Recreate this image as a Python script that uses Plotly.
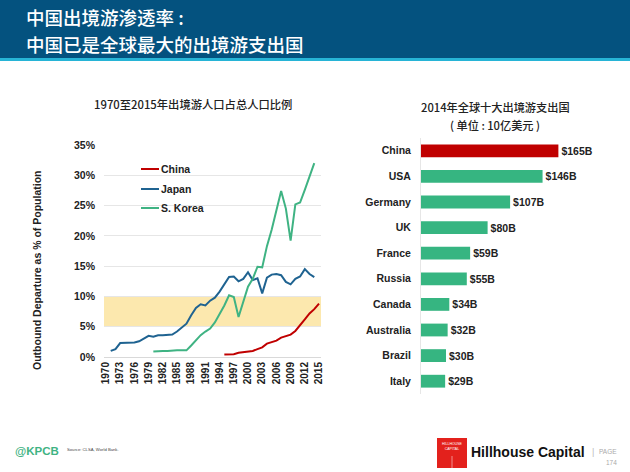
import plotly.graph_objects as go

W, H = 630, 472
FONT = "Liberation Sans, Noto Sans CJK SC, sans-serif"
CJK = "Noto Sans CJK SC, Liberation Sans, sans-serif"
DARK = "#222222"
RED = "#C00000"
BLUE = "#1F6391"
GREEN = "#3FB383"

japan_years = list(range(1971, 2015))
japan = [1.0, 1.3, 2.3, 2.3, 2.3, 2.4, 2.6, 3.0, 3.5, 3.35, 3.6, 3.6, 3.6, 3.7, 4.2,
         4.9, 5.5, 6.9, 8.1, 8.7, 8.5, 9.3, 9.8, 10.8, 12.1, 13.2, 13.3, 12.5, 12.9,
         14.0, 12.7, 13.0, 10.5, 13.1, 13.6, 13.7, 13.5, 12.4, 12.0, 12.9, 13.3, 14.5,
         13.7, 13.2]

korea_years = list(range(1980, 2015))
korea = [0.9, 1.0, 1.0, 1.0, 1.1, 1.1, 1.1, 1.1, 1.9, 2.8, 3.6, 4.2, 4.7, 5.7, 7.0,
         8.5, 10.2, 9.9, 6.6, 9.2, 11.6, 12.9, 14.9, 14.8, 18.3, 21.0, 24.2, 27.4,
         24.5, 19.2, 25.2, 25.5, 27.6, 29.7, 32.0]

china_years = list(range(1995, 2016))
china = [0.4, 0.4, 0.45, 0.7, 0.8, 0.85, 1.0, 1.3, 1.6, 2.2, 2.4, 2.7, 3.2, 3.5, 3.7,
         4.3, 5.2, 6.2, 7.2, 7.9, 8.8]

countries = ["China", "USA", "Germany", "UK", "France", "Russia", "Canada", "Australia",
             "Brazil", "Italy"]
spend = [165, 146, 107, 80, 59, 55, 34, 32, 30, 29]
spend_labels = ["$165B", "$146B", "$107B", "$80B", "$59B", "$55B", "$34B", "$32B", "$30B", "$29B"]
bar_colors = [RED] + ["#36B581"] * 9

year_ticks = list(range(1970, 2016, 3))
pct_ticks = [0, 5, 10, 15, 20, 25, 30, 35]
pct_labels = ["0%", "5%", "10%", "15%", "20%", "25%", "30%", "35%"]


def px(x):
    return x / W


def py(y):
    return 1 - y / H


def label(x, y, text, size, color=DARK, family=FONT, anchor="left", weight="normal", angle=0):
    return dict(xref="paper", yref="paper", x=px(x), y=py(y), text=text, showarrow=False,
                xanchor=anchor, yanchor="middle", textangle=angle,
                font=dict(size=size, color=color, family=family, weight=weight))


def legend_line(y, color):
    return dict(type="line", xref="paper", yref="paper", x0=px(141), x1=px(159), y0=py(y), y1=py(y),
                line=dict(color=color, width=2))


fig = go.Figure()
fig.add_trace(go.Scatter(x=china_years, y=china, mode="lines", name="China",
                         line=dict(color=RED, width=2)))
fig.add_trace(go.Scatter(x=japan_years, y=japan, mode="lines", name="Japan",
                         line=dict(color=BLUE, width=2)))
fig.add_trace(go.Scatter(x=korea_years, y=korea, mode="lines", name="S. Korea",
                         line=dict(color=GREEN, width=2)))
fig.add_trace(go.Bar(x=spend, y=countries, orientation="h", xaxis="x2", yaxis="y2",
                     marker=dict(color=bar_colors, line_width=0), text=spend_labels,
                     textposition="outside", cliponaxis=False,
                     textfont=dict(size=10.5, color=DARK, family=FONT, weight="bold")))

shapes = [
    # header band
    dict(type="rect", xref="paper", yref="paper", x0=0, x1=1, y0=py(58), y1=1,
         fillcolor="#04527F", line_width=0),
    dict(type="rect", xref="paper", yref="paper", x0=0, x1=1, y0=py(61), y1=py(58),
         fillcolor="#27B4D6", line_width=0),
    # 5-10% band
    dict(type="rect", xref="x", yref="y", x0=1969.58, x1=2015.42, y0=5, y1=10,
         fillcolor="#FCE8AE", line_width=0, layer="below"),
    # logo
    dict(type="rect", xref="paper", yref="paper", x0=px(437), x1=px(467), y0=py(468), y1=py(438),
         fillcolor="#E3211C", line_width=0),
    dict(type="line", xref="paper", yref="paper", x0=px(452), x1=px(452), y0=py(468), y1=py(456),
         line=dict(color="white", width=0.5)),
    # legend, short line samples as in the original
    legend_line(169, RED),
    legend_line(189, BLUE),
    legend_line(208, GREEN),
]

annotations = [
    label(24, 17, "中国出境游渗透率 :", 18.5, "white", CJK, weight=500),
    label(24, 44, "中国已是全球最大的出境游支出国", 18.5, "white", CJK, weight=500),
    label(193, 104, "1970至2015年出境游人口占总人口比例", 11.3, DARK, CJK, "center", 500),
    label(495, 107, "2014年全球十大出境游支出国", 11.2, DARK, CJK, "center", 500),
    label(495, 125, "( 单位 : 10亿美元 )", 11.2, DARK, CJK, "center", 500),
    label(37, 270, "Outbound Departure as % of Population", 10.5, DARK, FONT, "center", "bold", -90),
    label(159, 169, "China", 10.5, DARK, FONT, weight="bold"),
    label(159, 189, "Japan", 10.5, DARK, FONT, weight="bold"),
    label(159, 208, "S. Korea", 10.5, DARK, FONT, weight="bold"),
    label(13, 451, "@KPCB", 11.5, GREEN, FONT, weight="bold"),
    label(65, 449, "Source: CLSA, World Bank.", 4.2, "#444444"),
    label(452, 446, "HILLHOUSE<br>CAPITAL", 3.5, "white", FONT, "center"),
    label(469, 452, "Hillhouse Capital", 14, "#111111", weight="bold"),
    label(590, 452, "|", 9, "#BBBBBB"),
    label(619, 451, "PAGE", 6.5, "#AAAAAA", FONT, "right"),
    label(619, 462, "174", 6.5, "#AAAAAA", FONT, "right"),
]

fig.update_layout(
    width=W, height=H, margin=dict(l=0, r=0, t=0, b=0, autoexpand=False),
    paper_bgcolor="white", plot_bgcolor="white",
    font=dict(family=FONT, color=DARK),
    shapes=shapes, annotations=annotations, bargap=0.5, showlegend=False,
    xaxis=dict(domain=[px(104), px(321)], range=[1969.58, 2015.42], tickmode="array",
               tickvals=year_ticks, ticktext=[str(y) for y in year_ticks], tickangle=-90,
               showgrid=False, showline=True, linecolor="#D9D9D9", zeroline=False,
               ticks="", tickfont=dict(size=10, color=DARK, weight="bold")),
    yaxis=dict(domain=[py(357), py(145)], range=[0, 35], tickmode="array", tickvals=pct_ticks,
               ticktext=pct_labels, showgrid=True, gridcolor="#E6E6E6", zeroline=False,
               ticks="", ticklabelstandoff=8, tickfont=dict(size=10.5, color=DARK, weight="bold")),
    xaxis2=dict(domain=[px(421), 1], range=[0, 251], anchor="y2", visible=False),
    yaxis2=dict(domain=[py(394), py(138)], anchor="x2", autorange="reversed", categoryorder="array",
                categoryarray=countries, showgrid=False, zeroline=False, showline=True,
                linecolor="#E6E6E6", ticks="", ticklabelstandoff=7,
                tickfont=dict(size=10.5, color=DARK, weight="bold")),
)

# browsers default the body to an 8px margin, which pushes the figure off the window
fig.write_html("out.html", config={"displayModeBar": False},
               post_script="document.body.style.margin = '0';")
